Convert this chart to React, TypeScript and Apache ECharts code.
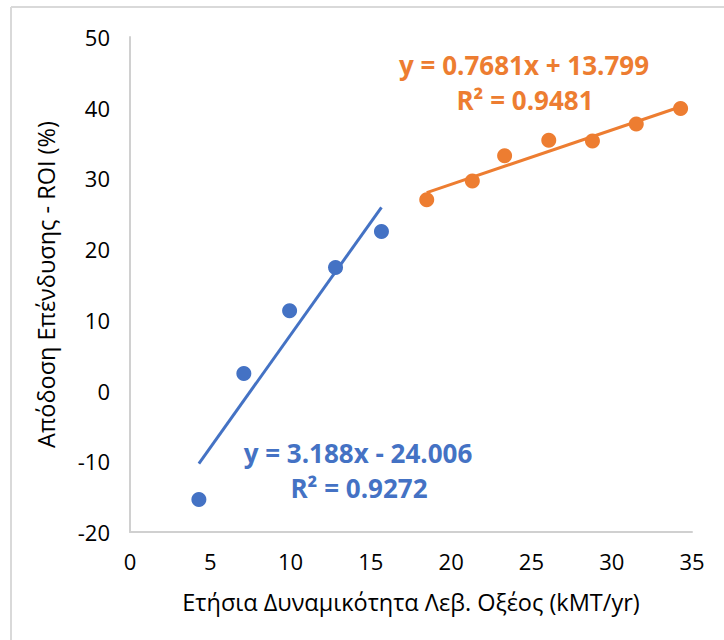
import React, { useEffect, useRef } from "react";
import * as echarts from "echarts";

const blueX = [4.29, 7.09, 9.94, 12.8, 15.66];
const blueY = [-15.4, 2.4, 11.3, 17.4, 22.5];
const orangeX = [18.48, 21.32, 23.33, 26.08, 28.8, 31.53, 34.29];
const orangeY = [27.0, 29.65, 33.2, 35.4, 35.3, 37.7, 39.9];
const blueFit = { slope: 3.188, intercept: -24.006, r2: "0.9272" };
const orangeFit = { slope: 0.7681, intercept: 13.799, r2: "0.9481" };
const xTicks = [0, 5, 10, 15, 20, 25, 30, 35];
const yTicks = [-20, -10, 0, 10, 20, 30, 40, 50];
const xTitle = "Ετήσια Δυναμικότητα Λεβ. Οξέος (kMT/yr)";
const yTitle = "Απόδοση Επένδυσης - ROI (%)";

const BLUE = "#4472C4";
const ORANGE = "#ED7D31";
const FONT = "'Open Sans', sans-serif";

function fitLine(xs: number[], f: { slope: number; intercept: number }) {
  const x0 = Math.min(...xs);
  const x1 = Math.max(...xs);
  return [
    [x0, f.slope * x0 + f.intercept],
    [x1, f.slope * x1 + f.intercept],
  ];
}

export default function App() {
  const ref = useRef<HTMLDivElement>(null);
  useEffect(() => {
    if (!ref.current) return;
    const chart = echarts.init(ref.current, null, { renderer: "svg" });
    const blueEq = `y = ${blueFit.slope}x - ${Math.abs(blueFit.intercept).toFixed(3)}`;
    const orangeEq = `y = ${orangeFit.slope}x + ${orangeFit.intercept.toFixed(3)}`;
    const eqFont = `bold 26px ${FONT}`;
    chart.setOption({
      animation: false,
      backgroundColor: "#ffffff",
      grid: { left: 130, right: 32, top: 37, bottom: 108 },
      xAxis: {
        type: "value",
        min: xTicks[0],
        max: xTicks[xTicks.length - 1],
        interval: 5,
        name: xTitle,
        nameLocation: "middle",
        nameGap: 58,
        nameTextStyle: { fontFamily: FONT, fontSize: 23.5, color: "#000" },
        axisLine: { show: true, onZero: false, lineStyle: { color: "#d0d0d0", width: 2 } },
        axisTick: { show: false },
        splitLine: { show: false },
        axisLabel: { fontFamily: FONT, fontSize: 22, color: "#000", margin: 18 },
      },
      yAxis: {
        type: "value",
        min: yTicks[0],
        max: yTicks[yTicks.length - 1],
        interval: 10,
        name: yTitle,
        nameLocation: "middle",
        nameGap: 72,
        nameTextStyle: { fontFamily: FONT, fontSize: 23.5, color: "#000" },
        axisLine: { show: true, onZero: false, lineStyle: { color: "#d0d0d0", width: 2 } },
        axisTick: { show: false },
        splitLine: { show: false },
        axisLabel: { fontFamily: FONT, fontSize: 22, color: "#000", margin: 20 },
      },
      graphic: [
        {
          type: "line",
          shape: { x1: 11, y1: 7, x2: 724, y2: 7 },
          style: { stroke: "#d9d9d9", lineWidth: 2 },
        },
        {
          type: "line",
          shape: { x1: 11, y1: 7, x2: 11, y2: 640 },
          style: { stroke: "#d9d9d9", lineWidth: 2 },
        },
        {
          type: "text",
          x: 524,
          y: 65,
          style: { text: orangeEq, fill: ORANGE, font: eqFont, textAlign: "center", textVerticalAlign: "middle" },
        },
        {
          type: "text",
          x: 525,
          y: 100,
          style: { text: `R² = ${orangeFit.r2}`, fill: ORANGE, font: eqFont, textAlign: "center", textVerticalAlign: "middle" },
        },
        {
          type: "text",
          x: 358,
          y: 453,
          style: { text: blueEq, fill: BLUE, font: eqFont, textAlign: "center", textVerticalAlign: "middle" },
        },
        {
          type: "text",
          x: 359,
          y: 488,
          style: { text: `R² = ${blueFit.r2}`, fill: BLUE, font: eqFont, textAlign: "center", textVerticalAlign: "middle" },
        },
      ],
      series: [
        {
          type: "line",
          data: fitLine(blueX, blueFit),
          showSymbol: false,
          symbol: "none",
          lineStyle: { color: BLUE, width: 3 },
          z: 2,
        },
        {
          type: "line",
          data: fitLine(orangeX, orangeFit),
          showSymbol: false,
          symbol: "none",
          lineStyle: { color: ORANGE, width: 3 },
          z: 2,
        },
        {
          type: "scatter",
          data: blueX.map((x, i) => [x, blueY[i]]),
          symbolSize: 15,
          itemStyle: { color: BLUE, opacity: 1 },
          z: 3,
        },
        {
          type: "scatter",
          data: orangeX.map((x, i) => [x, orangeY[i]]),
          symbolSize: 15,
          itemStyle: { color: ORANGE, opacity: 1 },
          z: 3,
        },
      ],
    });
    return () => chart.dispose();
  }, []);
  return (
    <div
      ref={ref}
      style={{ position: "absolute", left: 0, top: 0, width: 724, height: 640 }}
    />
  );
}
